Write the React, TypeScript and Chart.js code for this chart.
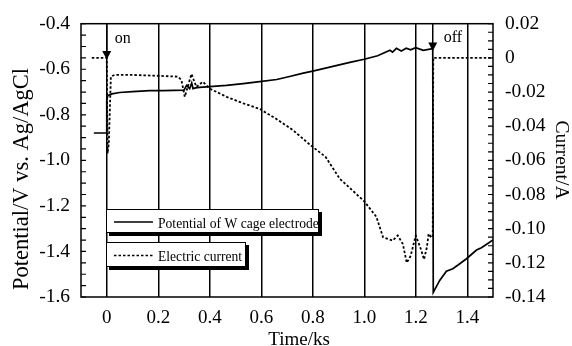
import { useEffect, useRef } from 'react';
import { Chart, registerables } from 'chart.js';

Chart.register(...registerables);

// ---- data ----
const potentialTime = [
  -0.05, 0, 0, 0.005, 0.02, 0.05, 0.1, 0.167, 0.22, 0.3, 0.31, 0.322, 0.33, 0.335, 0.345, 0.36,
  0.4, 0.465, 0.53, 0.594, 0.66, 0.71, 0.763, 0.8, 0.866, 0.944, 1.0, 1.052, 1.1, 1.11, 1.125,
  1.144, 1.163, 1.18, 1.2, 1.229, 1.255, 1.266, 1.268, 1.293, 1.319, 1.344, 1.371, 1.397, 1.436,
  1.455, 1.5,
];
const potentialValues = [
  -0.88, -0.88, -0.73, -0.715, -0.708, -0.702, -0.698, -0.694, -0.694, -0.692, -0.671, -0.685,
  -0.66, -0.685, -0.682, -0.68, -0.676, -0.671, -0.663, -0.654, -0.645, -0.632, -0.617, -0.608,
  -0.591, -0.57, -0.556, -0.541, -0.517, -0.525, -0.508, -0.52, -0.508, -0.515, -0.505, -0.517,
  -0.512, -0.51, -1.58, -1.527, -1.487, -1.476, -1.454, -1.432, -1.394, -1.384, -1.35,
];
const currentTime = [
  -0.058, 0, 0.003, 0.008, 0.016, 0.03, 0.1, 0.2, 0.277, 0.29, 0.303, 0.329, 0.348, 0.373, 0.4,
  0.465, 0.53, 0.594, 0.659, 0.724, 0.788, 0.85, 0.905, 0.95, 1.0, 1.047, 1.073, 1.11, 1.13, 1.15,
  1.165, 1.18, 1.2, 1.22, 1.232, 1.243, 1.25, 1.26, 1.266, 1.268, 1.5,
];
const currentValues = [
  0, 0, -0.056, -0.05, -0.011, -0.01, -0.01, -0.0105, -0.011, -0.013, -0.0228, -0.0094, -0.017,
  -0.014, -0.018, -0.0228, -0.0266, -0.0299, -0.0358, -0.0424, -0.0507, -0.058, -0.0708, -0.077,
  -0.084, -0.093, -0.105, -0.107, -0.104, -0.109, -0.12, -0.116, -0.104, -0.112, -0.118, -0.111,
  -0.103, -0.105, -0.105, 0, 0,
];
const timeTicks = [0, 0.2, 0.4, 0.6, 0.8, 1.0, 1.2, 1.4];
const potentialTicks = [-1.6, -1.4, -1.2, -1.0, -0.8, -0.6, -0.4];
const currentTicks = [-0.14, -0.12, -0.1, -0.08, -0.06, -0.04, -0.02, 0, 0.02];
const legendLabels = ['Potential of W cage electrode', 'Electric current'];
const arrowLabels = ['on', 'off'];
const arrowTimes = [0, 1.266];
const arrowTipCurrents = [-0.001, 0.004];
const axisTitles = ['Time/ks', 'Potential/V vs. Ag/AgCl', 'Current/A'];

const FONT = "'Liberation Serif', 'Times New Roman', serif";

const decorPlugin = {
  id: 'decor',
  afterDraw(chart: any) {
    const { ctx, chartArea: a, scales } = chart;
    const xs = scales.x;
    const ys = scales.y;
    const ys2 = scales.y2;
    ctx.save();
    ctx.strokeStyle = '#000';
    ctx.fillStyle = '#000';

    // frame
    ctx.lineWidth = 1.5;
    ctx.setLineDash([]);
    ctx.strokeRect(a.left, a.top, a.right - a.left, a.bottom - a.top);

    // inward minor ticks
    ctx.lineWidth = 1.2;
    ctx.beginPath();
    for (let i = 0; i <= 24; i++) {
      const py = ys.getPixelForValue(-1.6 + i * 0.05);
      ctx.moveTo(a.left, py);
      ctx.lineTo(a.left + 5, py);
    }
    for (let i = 0; i <= 32; i++) {
      const py = ys2.getPixelForValue(-0.14 + i * 0.005);
      ctx.moveTo(a.right - 5, py);
      ctx.lineTo(a.right, py);
    }
    ctx.stroke();

    // arrows
    ctx.font = `16px ${FONT}`;
    ctx.textBaseline = 'alphabetic';
    ctx.textAlign = 'left';
    arrowTimes.forEach((t, i) => {
      const px = xs.getPixelForValue(t);
      const tip = ys2.getPixelForValue(arrowTipCurrents[i]);
      ctx.lineWidth = 1.5;
      ctx.beginPath();
      ctx.moveTo(px, a.top);
      ctx.lineTo(px, tip - 7);
      ctx.stroke();
      ctx.beginPath();
      ctx.moveTo(px - 4.5, tip - 8.5);
      ctx.lineTo(px + 4.5, tip - 8.5);
      ctx.lineTo(px, tip);
      ctx.closePath();
      ctx.fill();
      ctx.fillText(arrowLabels[i], px + (i === 0 ? 8 : 11), a.top + (i === 0 ? 19.5 : 18.5));
    });

    // legend boxes
    const boxes = [
      { x: 106, y: 209, w: 213, h: 24, dash: [] as number[] },
      { x: 106, y: 242, w: 140, h: 25, dash: [2.5, 2] },
    ];
    boxes.forEach((b, i) => {
      ctx.setLineDash([]);
      ctx.fillStyle = '#000';
      ctx.fillRect(b.x + 3, b.y + 3, b.w, b.h);
      ctx.fillStyle = '#fff';
      ctx.fillRect(b.x, b.y, b.w, b.h);
      ctx.lineWidth = 1;
      ctx.strokeStyle = '#000';
      ctx.strokeRect(b.x + 0.5, b.y + 0.5, b.w - 1, b.h - 1);
      const cy = b.y + b.h / 2 + 1;
      ctx.lineWidth = 1.5;
      ctx.setLineDash(b.dash);
      ctx.beginPath();
      ctx.moveTo(114, cy);
      ctx.lineTo(153, cy);
      ctx.stroke();
      ctx.setLineDash([]);
      ctx.save();
      ctx.beginPath();
      ctx.rect(b.x, b.y, b.w - 1, b.h);
      ctx.clip();
      ctx.fillStyle = '#000';
      ctx.font = `13.6px ${FONT}`;
      ctx.textAlign = 'left';
      ctx.textBaseline = 'alphabetic';
      ctx.fillText(legendLabels[i], 158, b.y + 19);
      ctx.restore();
    });

    // axis titles
    ctx.fillStyle = '#000';
    ctx.font = `19px ${FONT}`;
    ctx.textAlign = 'center';
    ctx.textBaseline = 'alphabetic';
    ctx.fillText(axisTitles[0], 299, 344.5);

    ctx.save();
    ctx.font = `22.5px ${FONT}`;
    ctx.translate(28, 179);
    ctx.rotate(-Math.PI / 2);
    ctx.fillText(axisTitles[1], 0, 0);
    ctx.restore();

    ctx.save();
    ctx.font = `19.5px ${FONT}`;
    ctx.translate(556, 160);
    ctx.rotate(Math.PI / 2);
    ctx.fillText(axisTitles[2], 0, 0);
    ctx.restore();

    ctx.restore();
  },
};

export default function App() {
  const ref = useRef<HTMLCanvasElement | null>(null);

  useEffect(() => {
    if (!ref.current) return;
    const chart = new Chart(ref.current, {
      type: 'line',
      data: {
        datasets: [
          {
            label: legendLabels[0],
            data: potentialTime.map((t, i) => ({ x: t, y: potentialValues[i] })),
            yAxisID: 'y',
            borderColor: '#000',
            borderWidth: 1.7,
            pointRadius: 0,
            tension: 0,
            fill: false,
          },
          {
            label: legendLabels[1],
            data: currentTime.map((t, i) => ({ x: t, y: currentValues[i] })),
            yAxisID: 'y2',
            borderColor: '#000',
            borderWidth: 1.8,
            borderDash: [2.5, 2],
            pointRadius: 0,
            tension: 0,
            fill: false,
          },
        ],
      },
      options: {
        animation: false,
        responsive: false,
        events: [],
        layout: { padding: { top: 19, left: 0, right: 0, bottom: 0 } },
        plugins: { legend: { display: false }, title: { display: false }, tooltip: { enabled: false } },
        scales: {
          x: {
            type: 'linear',
            min: -0.1,
            max: 1.5,
            afterBuildTicks: (s: any) => {
              s.ticks = timeTicks.map((v) => ({ value: v }));
            },
            afterFit: (s: any) => {
              s.height = 49;
            },
            ticks: {
              color: '#000',
              font: { family: FONT, size: 19 },
              padding: 10,
              maxRotation: 0,
              autoSkip: false,
              callback: (v: any) => (Math.abs(v) < 1e-9 ? '0' : Number(v).toFixed(1)),
            },
            grid: { color: '#000', lineWidth: 1.5, drawTicks: false },
            border: { display: false },
          },
          y: {
            type: 'linear',
            position: 'left',
            min: -1.6,
            max: -0.4,
            afterBuildTicks: (s: any) => {
              s.ticks = potentialTicks.map((v) => ({ value: v }));
            },
            afterFit: (s: any) => {
              s.width = 81;
            },
            ticks: {
              color: '#000',
              font: { family: FONT, size: 19.5 },
              padding: 11,
              autoSkip: false,
              callback: (v: any) => Number(v).toFixed(1),
            },
            grid: { display: false, drawTicks: false },
            border: { display: false },
          },
          y2: {
            type: 'linear',
            position: 'right',
            min: -0.14,
            max: 0.02,
            afterBuildTicks: (s: any) => {
              s.ticks = currentTicks.map((v) => ({ value: v }));
            },
            afterFit: (s: any) => {
              s.width = 79;
            },
            ticks: {
              color: '#000',
              font: { family: FONT, size: 19.5 },
              padding: 12,
              autoSkip: false,
              callback: (v: any) => (Math.abs(v) < 1e-9 ? '0' : Number(v).toFixed(2)),
            },
            grid: { display: false, drawTicks: false },
            border: { display: false },
          },
        },
      },
      plugins: [decorPlugin],
    } as any);
    return () => chart.destroy();
  }, []);

  return (
    <div style={{ position: 'fixed', left: 0, top: 0, width: 572, height: 346, background: '#fff' }}>
      <canvas ref={ref} width={572} height={346} style={{ display: 'block' }} />
    </div>
  );
}
